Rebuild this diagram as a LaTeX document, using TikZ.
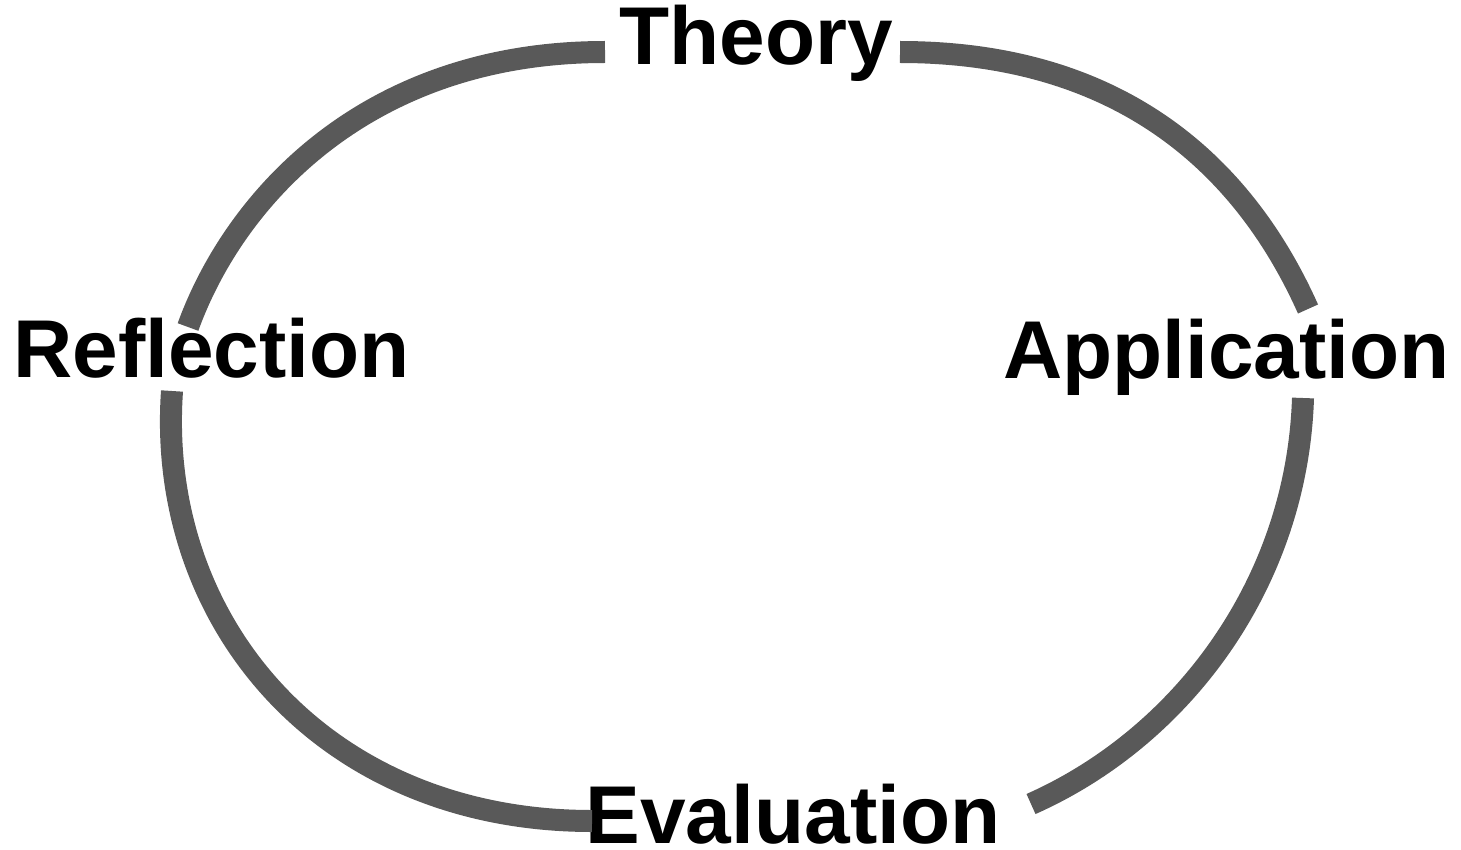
\documentclass[tikz,border=0pt]{standalone}
\usepackage{fontspec}
\setmainfont{Liberation Sans}
\usepackage{tikz}

\definecolor{arcgray}{HTML}{595959}

\begin{document}
\begin{tikzpicture}[x=1pt,y=-1pt,
    stage/.style={inner sep=0pt,anchor=base,font=\bfseries\fontsize{82}{90}\selectfont},
    cyclearc/.style={draw=arcgray,line width=22pt}]
    \useasboundingbox (0,0) rectangle (1461,850);
    % the four stages
    \node[stage] (theory)      at (756,65)    {Theory};
    \node[stage] (reflection)  at (211.5,377) {Reflection};
    \node[stage] (application) at (1226.5,378) {Application};
    \node[stage] (evaluation)  at (793,843)   {Evaluation};
    % arcs of the cycle
    \draw[cyclearc] ([shift={(-151,-13)}]theory.base)
        .. controls +(-240,0) and +(46,-127) .. ([shift={(-23.5,-50)}]reflection.base);
    \draw[cyclearc] ([shift={(144,-13)}]theory.base)
        .. controls +(240,0) and +(-55,-123) .. ([shift={(81.5,-69)}]application.base);
    \draw[cyclearc] ([shift={(-39.5,14)}]reflection.base)
        .. controls +(-16,230) and +(-270,0) .. ([shift={(-201,-22)}]evaluation.base);
    \draw[cyclearc] ([shift={(76.5,20)}]application.base)
        .. controls +(-6,185) and +(151,-67) .. ([shift={(238,-39)}]evaluation.base);
\end{tikzpicture}
\end{document}
